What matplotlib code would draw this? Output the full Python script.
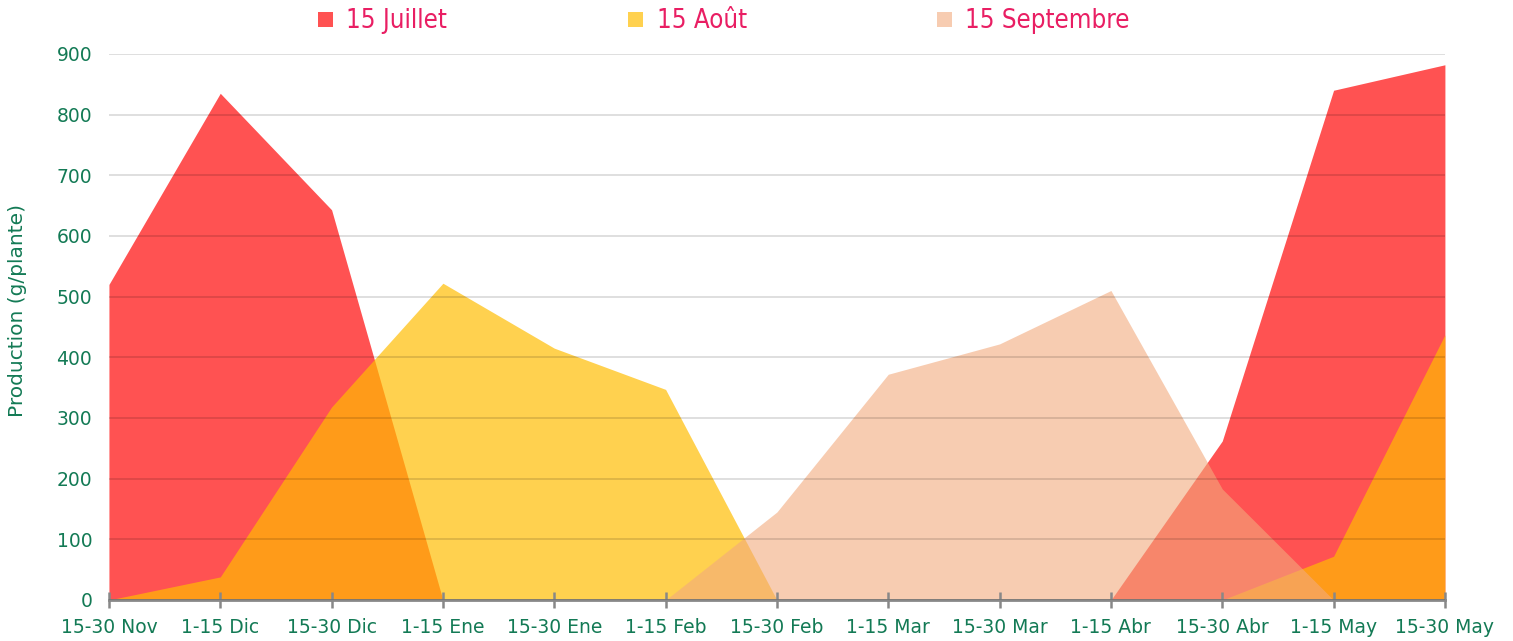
import matplotlib.pyplot as plt
from matplotlib.patches import Rectangle
import numpy as np

# periodes de recolte
periods = ['15-30 Nov', '1-15 Dic', '15-30 Dic', '1-15 Ene', '15-30 Ene', '1-15 Feb',
           '15-30 Feb', '1-15 Mar', '15-30 Mar', '1-15 Abr', '15-30 Abr', '1-15 May', '15-30 May']
# production (g/plante) par date de plantation
juillet = [520, 835, 643, 0, 0, 0, 0, 0, 0, 0, 262, 840, 882]
aout = [0, 38, 318, 522, 415, 347, 0, 0, 0, 0, 0, 72, 437]
septembre = [0, 0, 0, 0, 0, 0, 145, 372, 422, 510, 183, 0, 0]
series_names = ['15 Juillet', '15 Août', '15 Septembre']

green = '#137A55'
pink = '#E91E63'
styles = [((1.0, 0.0, 0.0), 0.68), ((1.0, 0.74, 0.0), 0.69), ((0.953, 0.667, 0.49), 0.6)]

fig = plt.figure(figsize=(15.13, 6.41), dpi=100)
ax = fig.add_axes([0.072, 0.064, 0.883, 0.852])
x = np.arange(len(periods))
for vals, (col, a) in zip([juillet, aout, septembre], styles):
    ax.fill_between(x, 0, vals, color=col, alpha=a, linewidth=0)

ax.set_xlim(0, len(periods) - 1)
ax.set_ylim(0, 900)
ax.set_yticks(range(0, 901, 100))
ax.set_xticks(x)
ax.set_xticklabels(periods)
ax.grid(axis='y', color='black', alpha=0.15, linewidth=1.2)
ax.set_axisbelow(False)
for s in ['top', 'right', 'left']:
    ax.spines[s].set_visible(False)
ax.spines['bottom'].set_color('#888888')
ax.spines['bottom'].set_linewidth(2)
ax.tick_params(axis='x', direction='inout', length=12, width=1.8, color='#888888',
               labelsize=13.5, labelcolor=green, pad=7)
ax.tick_params(axis='y', length=0, labelsize=13.5, labelcolor=green, pad=12)
ax.set_ylabel('Production (g/plante)', fontsize=14.5, color=green)
ax.yaxis.set_label_coords(-0.061, 0.53)

# legende en haut
lx = [0.210, 0.415, 0.619]
for px, name, (col, a) in zip(lx, series_names, styles):
    fig.patches.append(Rectangle((px, 0.958), 0.0099, 0.0234, transform=fig.transFigure,
                                 facecolor=col, alpha=a, linewidth=0))
    fig.text(px + 0.019, 0.968, name, fontsize=18.5, color=pink, va='center',
             family='DejaVu Sans', fontstretch='condensed')

fig.savefig('out.png', dpi=100)
